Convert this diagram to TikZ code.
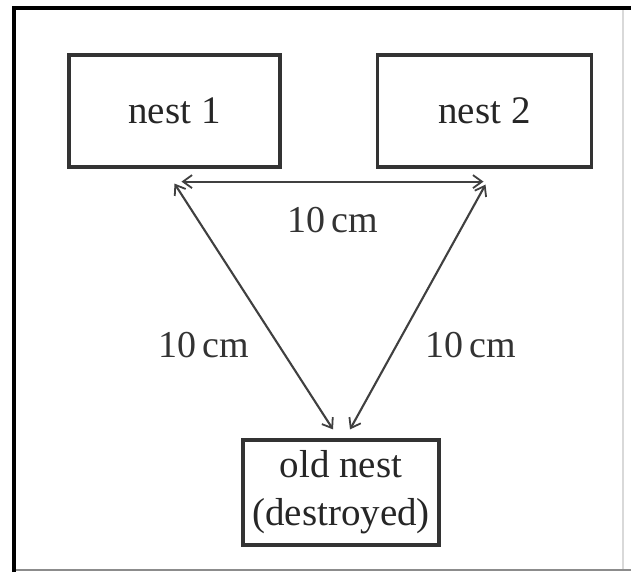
\documentclass[tikz,border=0pt]{standalone}
\usepackage{fontspec}
\setmainfont{Liberation Serif}
\usetikzlibrary{arrows.meta,calc}
\tikzset{
  nestbox/.style={draw=black!80, line width=3.2pt, fill=white, inner sep=0pt, text=black!85, font=\fontsize{39}{47}\selectfont},
  link/.style={draw=black!75, line width=2.1pt, {Straight Barb[length=9pt,width=13pt,line width=1.8pt]}-{Straight Barb[length=9pt,width=13pt,line width=1.8pt]}},
  dist/.style={font=\fontsize{38}{46}\selectfont, text=black!80}
}
\begin{document}
\begin{tikzpicture}[x=1pt,y=-1pt]
\useasboundingbox (0,0) rectangle (631,574);
\fill[white] (0,0) rectangle (631,574);
% frame
\draw[black!15, line width=1.5pt] (623,9) -- (623,570);
\draw[black!45, line width=2pt] (13,570) -- (631,570);
\draw[black, line width=4pt] (14,572) -- (14,8) -- (631,8);
% nests
\node[nestbox, minimum width=211pt, minimum height=112pt] (n1) at (174.5,111) {nest 1};
\node[nestbox, minimum width=214pt, minimum height=112pt] (n2) at (484.5,111) {nest 2};
\node[nestbox, minimum width=196pt, minimum height=105pt, align=center] (old) at (341,492.5) {old nest\\[1pt](destroyed)};
% anchor points
\coordinate (a1) at ($(n1.south)+(0,15)$);
\coordinate (h1) at ($(n1.south)+(7,13)$);
\coordinate (a2) at ($(n2.south)+(1,16)$);
\coordinate (h2) at ($(n2.south)+(-1,13)$);
\coordinate (b1) at ($(old.north)+(-8,-9)$);
\coordinate (b2) at ($(old.north)+(9,-9)$);
% connectors
\draw[link] (h1) -- (h2);
\draw[link] (a1) -- (b1);
\draw[link] (a2) -- (b2);
% labels
\node[dist] (l0) at (333,220) {10\,cm};
\node[dist] (l1) at (204,345) {10\,cm};
\node[dist] (l2) at (471,345) {10\,cm};
\end{tikzpicture}
\end{document}
